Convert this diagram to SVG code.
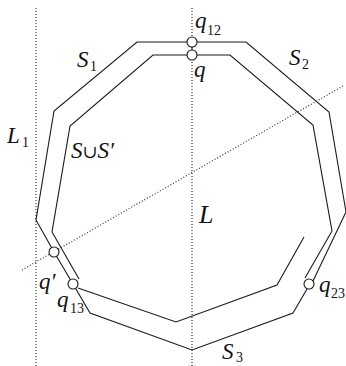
<svg xmlns="http://www.w3.org/2000/svg" width="346" height="366" viewBox="0 0 346 366">
<style>
.ln{fill:none;stroke:#1a1a1a;stroke-width:1.1;stroke-linejoin:miter}
.dot{fill:none;stroke:#333;stroke-width:1.2;stroke-dasharray:1 2}
.pt{fill:#fff;stroke:#1a1a1a;stroke-width:1.1}
.t{font-family:'Liberation Serif','DejaVu Serif',serif;font-style:italic;font-size:23px;fill:#111}
.s{font-family:'Liberation Serif','DejaVu Serif',serif;font-style:normal;font-size:14px;fill:#111}
.u{font-family:'Liberation Serif','DejaVu Serif',serif;font-style:normal;font-size:18px}
</style>
<rect width="346" height="366" fill="#fff"/>
<g id="lines-dotted">
<line class="dot" x1="36" y1="8" x2="36" y2="366"/>
<line class="dot" x1="192" y1="8" x2="192" y2="366"/>
<line class="dot" x1="22" y1="270" x2="343" y2="86"/>
</g>
<g id="connectors">
<path class="ln" d="M73,284 L54,252 L36,220 L54,111 L137,42 L246,42 L329,112 L346,212 L313,281"/>
<path class="ln" d="M307,289 L293,313 L192,350 L90,313 L73,284"/>
<path class="ln" d="M79,279 L52,232 L70,126 L153,55 L230,55 L313,125 L332,231 L305,278"/>
<path class="ln" d="M78,288 L176,322 L277,285 L304,237"/>
<line class="ln" x1="192" y1="42" x2="192" y2="55"/>
</g>
<g id="q12"><circle class="pt" cx="192" cy="42" r="5"/></g>
<g id="q"><circle class="pt" cx="192" cy="55" r="5"/></g>
<g id="qprime"><circle class="pt" cx="54" cy="252" r="5"/></g>
<g id="q13"><circle class="pt" cx="73" cy="284" r="5"/></g>
<g id="q23"><circle class="pt" cx="309" cy="284" r="5"/></g>
<g id="labels">
<text class="t" x="77" y="67">S<tspan class="s" x="90" y="71">1</tspan></text>
<text class="t" x="289" y="65">S<tspan class="s" x="302" y="69">2</tspan></text>
<text class="t" x="7" y="143">L<tspan class="s" x="22" y="147">1</tspan></text>
<text class="t" x="71" y="158">S<tspan class="u">∪</tspan>S′</text>
<text class="t" x="195" y="28">q<tspan class="s" x="207" y="35">12</tspan></text>
<text class="t" x="194" y="77">q</text>
<text class="t" x="199" y="223" style="font-size:26px">L</text>
<text class="t" x="39" y="289">q′</text>
<text class="t" x="57" y="307">q<tspan class="s" x="70" y="313">13</tspan></text>
<text class="t" x="319" y="292">q<tspan class="s" x="331" y="298">23</tspan></text>
<text class="t" x="222" y="359">S<tspan class="s" x="236" y="362">3</tspan></text>
</g>
</svg>
